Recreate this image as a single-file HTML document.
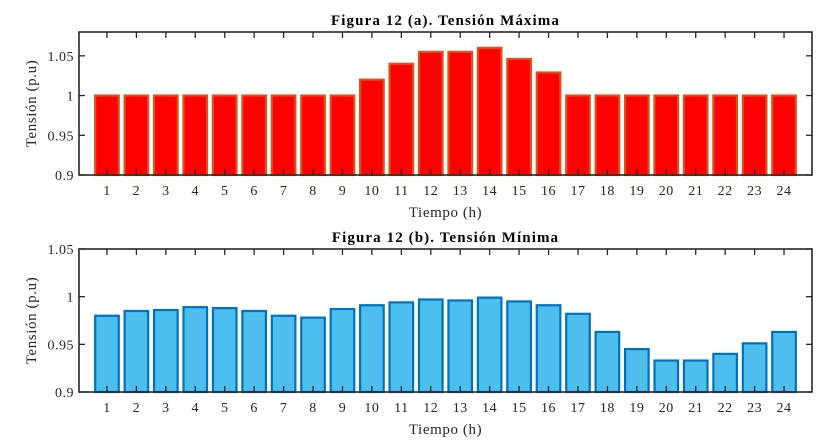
<!DOCTYPE html>
<html><head><meta charset="utf-8"><style>
body{margin:0;background:#fff;}
svg{display:block;font-family:"Liberation Serif",serif;}
</style></head><body>
<svg id="c" width="838" height="447"></svg>
<script>
const hours=["1","2","3","4","5","6","7","8","9","10","11","12","13","14","15","16","17","18","19","20","21","22","23","24"];
const maxV=[1,1,1,1,1,1,1,1,1,1.02,1.04,1.055,1.055,1.06,1.046,1.029,1,1,1,1,1,1,1,1];
const minV=[0.98,0.985,0.986,0.989,0.988,0.985,0.98,0.978,0.987,0.991,0.994,0.997,0.996,0.999,0.995,0.991,0.982,0.963,0.945,0.933,0.933,0.940,0.951,0.963];
const ticksA=[0.9,0.95,1,1.05];
const tickLabelsA=["0.9","0.95","1","1.05"];
const ticksB=[0.9,0.95,1,1.05];
const tickLabelsB=["0.9","0.95","1","1.05"];
const NS="http://www.w3.org/2000/svg";
const svg=document.getElementById('c');
function mk(t,a,p){const e=document.createElementNS(NS,t);for(const k in a)e.setAttribute(k,a[k]);(p||svg).appendChild(e);return e;}
function panel(cfg){
  const {L,R,T,B,ymin,ymax,vals,ticks,labels,fill,stroke,title,name}=cfg;
  const g=mk('g',{});
  
  
  const x=v=>L+(v-0.05)/(24.9)*(R-L);
  const y=v=>B-(v-ymin)/(ymax-ymin)*(B-T);
  const bw=0.8*(R-L)/24.9;
  vals.forEach((v,i)=>{
    const r=mk('rect',{x:x(i+1)-bw/2,y:y(v),width:bw,height:Math.max(0,B-y(v)),fill:fill,stroke:stroke,'stroke-width':2.2},g);
    
    
  });
  mk('rect',{x:L,y:T,width:R-L,height:B-T,fill:'none',stroke:'#262626','stroke-width':1.6},g);
  hours.forEach((h,i)=>{
    const xx=x(i+1);
    mk('line',{x1:xx,x2:xx,y1:B,y2:B-6,stroke:'#262626','stroke-width':1.3},g);
    mk('line',{x1:xx,x2:xx,y1:T,y2:T+6,stroke:'#262626','stroke-width':1.3},g);
    const t=mk('text',{x:xx,y:B+20,'text-anchor':'middle','font-size':14,'letter-spacing':0.5,fill:'#262626'},g);t.textContent=h;
    
    
  });
  ticks.forEach((v,i)=>{
    const yy=y(v);
    mk('line',{x1:L,x2:L+6,y1:yy,y2:yy,stroke:'#262626','stroke-width':1.3},g);
    mk('line',{x1:R,x2:R-6,y1:yy,y2:yy,stroke:'#262626','stroke-width':1.3},g);
    const t=mk('text',{x:L-5,y:yy+5,'text-anchor':'end','font-size':14,'letter-spacing':0.5,fill:'#262626'},g);t.textContent=labels[i];
    
    
  });
  const tt=mk('text',{x:(L+R)/2,y:T-7,'text-anchor':'middle','font-size':15,'letter-spacing':1.1,'font-weight':'bold',fill:'#000'},g);tt.textContent=title;
  
  
  const xl=mk('text',{x:(L+R)/2,y:B+42,'text-anchor':'middle','font-size':15,'letter-spacing':0.6,fill:'#262626'},g);xl.textContent='Tiempo (h)';
  
  
  const yl=mk('text',{x:0,y:0,'text-anchor':'middle','font-size':15,'letter-spacing':0.6,fill:'#262626',transform:`translate(36,${(T+B)/2}) rotate(-90)`},g);yl.textContent='Tensión (p.u)';
  
  
}
panel({L:79,R:812,T:32,B:175,ymin:0.9,ymax:1.08,vals:maxV,ticks:ticksA,labels:tickLabelsA,fill:'#ff0000',stroke:'#d95319',title:'Figura 12 (a). Tensión Máxima',name:'max-voltage-panel'});
panel({L:79,R:812,T:249,B:392,ymin:0.9,ymax:1.05,vals:minV,ticks:ticksB,labels:tickLabelsB,fill:'#4dbeee',stroke:'#0072bd',title:'Figura 12 (b). Tensión Mínima',name:'min-voltage-panel'});
</script>
</body></html>
